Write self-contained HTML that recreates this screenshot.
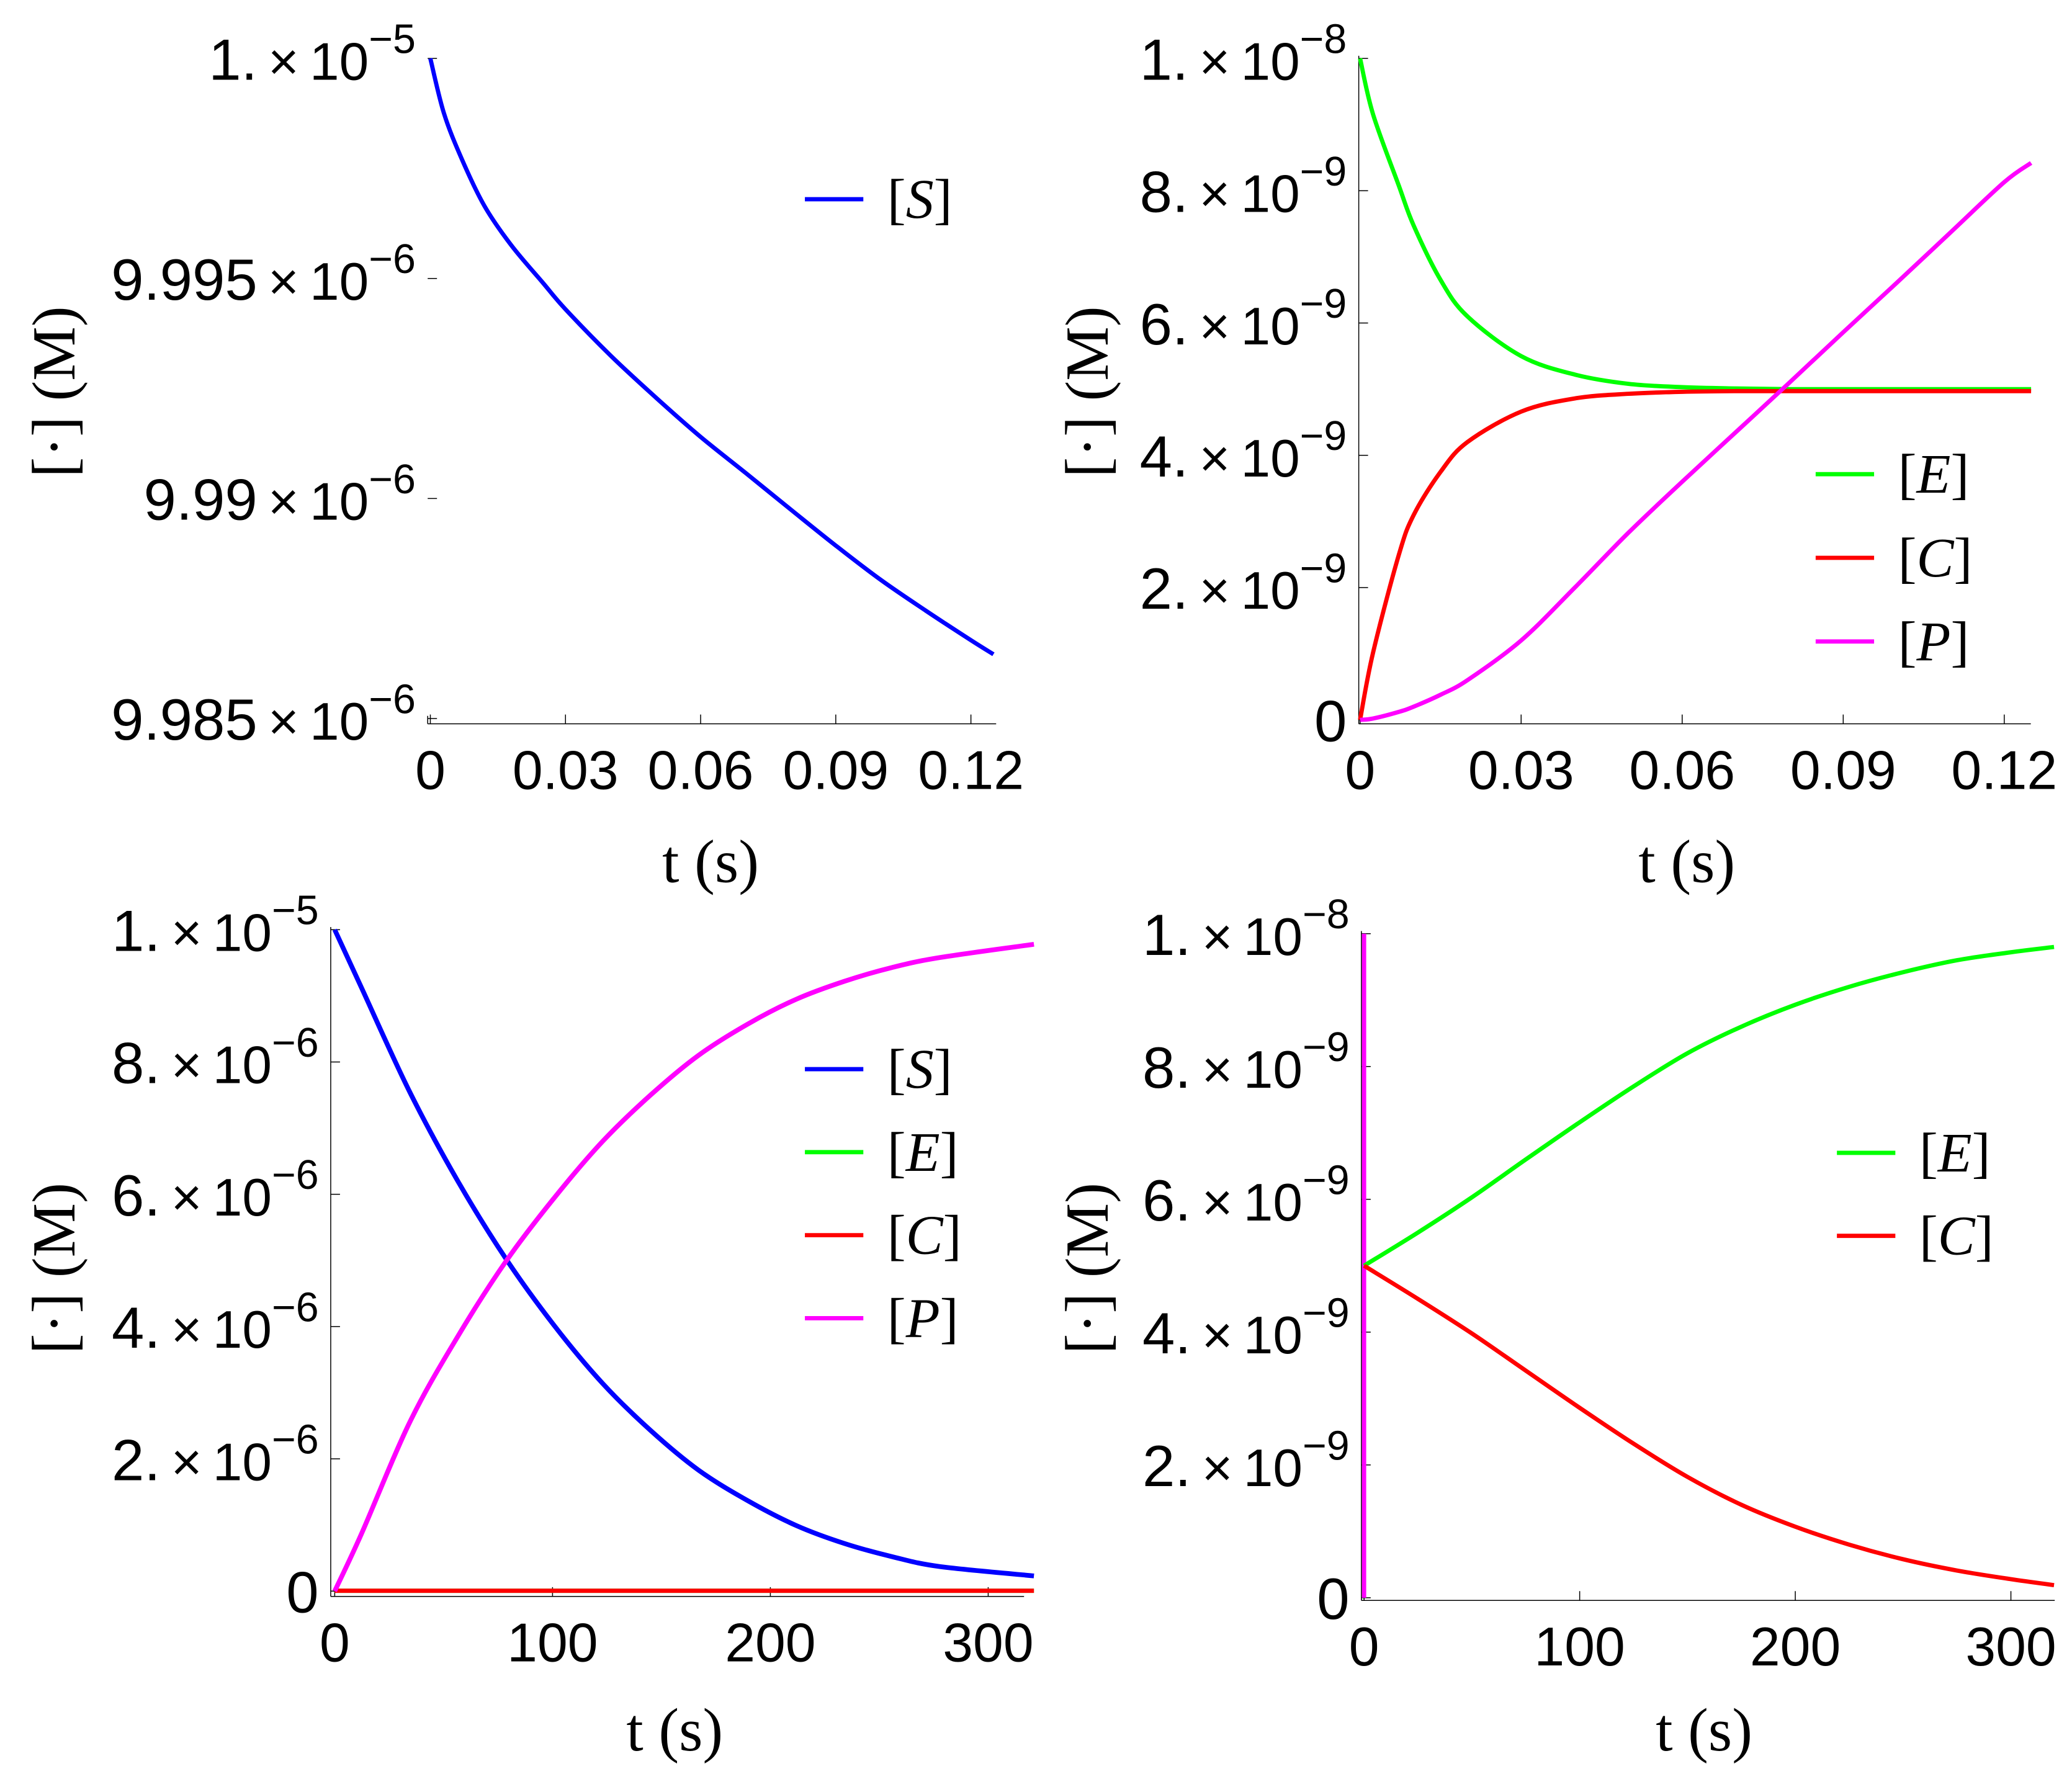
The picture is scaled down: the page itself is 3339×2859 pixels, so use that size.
<!DOCTYPE html>
<html><head><meta charset="utf-8"><style>
html,body{margin:0;padding:0;background:#fff;}
svg{display:block;}
text{font-family:"Liberation Sans",sans-serif;fill:#000;}
.serif{font-family:"Liberation Serif",serif;}
</style></head><body>
<svg id="fig" width="3339" height="2859" viewBox="0 0 1560 1335.7" preserveAspectRatio="none" xmlns="http://www.w3.org/2000/svg"></svg>
<script>
// ---- Panel A (top-left): [S] short time ----
const tA = [0,0.003,0.007,0.012,0.018,0.025,0.03,0.04,0.05,0.06,0.07,0.08,0.09,0.1,0.11,0.12,0.125];
const sA = [10,9.99876,9.99771,9.99665,9.99575,9.99490,9.99430,9.99325,9.99230,9.99140,9.99058,9.98975,9.98893,9.98815,9.98745,9.98678,9.98646];
const xTicksA = [0,0.03,0.06,0.09,0.12];
const xTickLabelsA = ["0","0.03","0.06","0.09","0.12"];
const yTicksA = [10,9.995,9.99,9.985];
const yTickMantA = ["1.","9.995","9.99","9.985"];
const yTickExpA = ["−5","−6","−6","−6"];

// ---- Panel B (top-right): E, C, P short time ----
const tB = [0,0.0024,0.0072,0.01,0.015,0.02,0.03,0.04,0.05,0.06,0.07,0.08,0.09,0.1,0.11,0.12,0.125];
const eB = [10,9.16,8.08,7.47,6.65,6.1,5.5,5.22,5.08,5.03,5.01,5.0,5.0,5.0,5.0,5.0,5.0];
const cB = [0,1.01,2.49,3.1,3.75,4.2,4.66,4.86,4.93,4.96,4.97,4.97,4.97,4.97,4.97,4.97,4.97];
const pB = [0,0.02,0.12,0.2,0.38,0.6,1.2,2.0,2.83,3.6,4.35,5.1,5.86,6.61,7.37,8.13,8.42];
const xTicksB = [0,0.03,0.06,0.09,0.12];
const xTickLabelsB = ["0","0.03","0.06","0.09","0.12"];
const yTicksB = [0,2,4,6,8,10];
const yTickMantB = ["0","2.","4.","6.","8.","1."];
const yTickExpB = ["","−9","−9","−9","−9","−8"];

// ---- Panel C (bottom-left): S, E, C, P long time ----
const tC = [0,12.2,34.4,56.5,78.7,100.9,123,145,167,190,212,234,256,278,321];
const sC = [10,9.13,7.55,6.2,5.02,4.01,3.14,2.43,1.83,1.36,0.99,0.72,0.52,0.37,0.23];
const pC = [0,0.86,2.55,3.85,4.99,5.95,6.8,7.5,8.1,8.58,8.95,9.22,9.43,9.58,9.78];
const eC = [0.005,0.005,0.005,0.005,0.005,0.005,0.005,0.005,0.005,0.005,0.005,0.005,0.005,0.005,0.005];
const cC = [0.005,0.005,0.005,0.005,0.005,0.005,0.005,0.005,0.005,0.005,0.005,0.005,0.005,0.005,0.005];
const xTicksC = [0,100,200,300];
const xTickLabelsC = ["0","100","200","300"];
const yTicksC = [0,2,4,6,8,10];
const yTickMantC = ["0","2.","4.","6.","8.","1."];
const yTickExpC = ["","−6","−6","−6","−6","−5"];

// ---- Panel D (bottom-right): E, C long time ----
const tD = [0,25,50,75,100,125,150,175,200,225,250,275,300,320];
const eD = [5,5.5,6.03,6.6,7.16,7.7,8.2,8.6,8.93,9.2,9.42,9.6,9.72,9.8];
const cD = [5,4.5,3.98,3.42,2.86,2.32,1.82,1.4,1.07,0.8,0.58,0.41,0.28,0.19];
const tDspike = [0,0];
const pDspike = [0,10];
const xTicksD = [0,100,200,300];
const xTickLabelsD = ["0","100","200","300"];
const yTicksD = [0,2,4,6,8,10];
const yTickMantD = ["0","2.","4.","6.","8.","1."];
const yTickExpD = ["","−9","−9","−9","−9","−8"];

const NS = "http://www.w3.org/2000/svg";
const svg = document.getElementById('fig');
function mk(tag, attrs, parent){
  const el = document.createElementNS(NS, tag);
  for (const k in attrs) el.setAttribute(k, attrs[k]);
  (parent||svg).appendChild(el);
  return el;
}
function linScale(d0,d1,r0,r1){ return v => r0 + (v-d0)*(r1-r0)/(d1-d0); }
function smoothPath(pts){
  if (pts.length < 3) return pts.map((p,i)=>(i?'L':'M')+p[0].toFixed(2)+' '+p[1].toFixed(2)).join(' ');
  let d = 'M' + pts[0][0].toFixed(2) + ' ' + pts[0][1].toFixed(2);
  for (let i=0;i<pts.length-1;i++){
    const p0 = pts[Math.max(0,i-1)], p1 = pts[i], p2 = pts[i+1], p3 = pts[Math.min(pts.length-1,i+2)];
    const c1x = p1[0] + (p2[0]-p0[0])/6, c1y = p1[1] + (p2[1]-p0[1])/6;
    const c2x = p2[0] - (p3[0]-p1[0])/6, c2y = p2[1] - (p3[1]-p1[1])/6;
    d += ` C${c1x.toFixed(2)} ${c1y.toFixed(2)} ${c2x.toFixed(2)} ${c2y.toFixed(2)} ${p2[0].toFixed(2)} ${p2[1].toFixed(2)}`;
  }
  return d;
}

function panel(p){
  const g = mk('g', {});
  
  
  const X = linScale(p.xd[0], p.xd[1], p.xr[0], p.xr[1]);
  const Y = linScale(p.yd[0], p.yd[1], p.yr[0], p.yr[1]);
  const ax = p.axisX, ay = p.axisY;
  const yAxis = mk('line', {x1:ax, y1:p.yr[1]-2, x2:ax, y2:ay, stroke:'#000','stroke-width':0.7}, g);
  
  
  const xAxis = mk('line', {x1:ax, y1:ay, x2:p.xEnd, y2:ay, stroke:'#000','stroke-width':0.7}, g);
  
  
  p.xTicks.forEach((v,i)=>{
    const x = X(v);
    const tk = mk('line', {x1:x, y1:ay, x2:x, y2:ay-7, stroke:'#000','stroke-width':0.7}, g);
    
    
    const tx = mk('text', {x:x, y:ay+49, 'text-anchor':'middle','font-size':41}, g);
    tx.textContent = p.xLabels[i];
    
    
  });
  p.yTicks.forEach((v,i)=>{
    const y = Y(v);
    const tk = mk('line', {x1:ax, y1:y, x2:ax+7, y2:y, stroke:'#000','stroke-width':0.7}, g);
    
    
    const tx = mk('text', {x:ax-9, y:y+16, 'text-anchor':'end','font-size':44}, g);
    
    
    if (p.yExp[i] === "") { tx.textContent = p.yMant[i]; }
    else {
      const a = mk('tspan', {}, tx); a.textContent = p.yMant[i];
      const b = mk('tspan', {'font-size':40}, tx); b.textContent = "\u2009×\u200910";
      const c = mk('tspan', {'font-size':31, dy:-20}, tx); c.textContent = p.yExp[i];
    }
  });
  p.series.forEach(s=>{
    const pts = s.t.map((t,i)=>[X(t), Y(s.v[i])]);
    const path = mk('path', {d:smoothPath(pts), fill:'none', stroke:s.color, 'stroke-width':s.w||3.2, 'stroke-linejoin':'round','stroke-linecap':'butt'}, g);
    
    
  });
  p.legend.items.forEach((it,i)=>{
    const y = p.legend.y0 + i*p.legend.dy;
    const lg = mk('g', {}, g);
    
    
    mk('line', {x1:p.legend.x, y1:y, x2:p.legend.x+44, y2:y, stroke:it.color,'stroke-width':3.2}, lg);
    const tx = mk('text', {x:p.legend.x+62, y:y+14, 'font-size':42, class:'serif'}, lg);
    const a = mk('tspan', {}, tx); a.textContent = '[';
    const b = mk('tspan', {'font-style':'italic'}, tx); b.textContent = it.key;
    const c = mk('tspan', {}, tx); c.textContent = ']';
  });
  const xt = mk('text', {x:p.xTitle[0], y:p.xTitle[1], 'text-anchor':'middle','font-size':46, class:'serif'}, g);
  xt.textContent = 't (s)';
  
  
  const yt = mk('text', {x:0, y:0, 'text-anchor':'middle','font-size':46, class:'serif',
    transform:`translate(${p.yTitle[0]},${p.yTitle[1]}) rotate(-90)`}, g);
  yt.textContent = '[·] (M)';
  
  
}

panel({name:'panel-s-short', xd:[0,0.12], xr:[324,731], yd:[10,9.985], yr:[44,541],
  axisX:322, axisY:545, xEnd:750,
  xTicks:xTicksA, xLabels:xTickLabelsA, yTicks:yTicksA, yMant:yTickMantA, yExp:yTickExpA,
  series:[{name:'series-s', t:tA, v:sA, color:'#0000ff'}],
  legend:{x:606, y0:150, dy:62, items:[{key:'S', color:'#0000ff'}]},
  xTitle:[535,664], yTitle:[56,295]});

panel({name:'panel-ecp-short', xd:[0,0.12], xr:[1024,1509], yd:[0,10], yr:[542,44],
  axisX:1023, axisY:545, xEnd:1529,
  xTicks:xTicksB, xLabels:xTickLabelsB, yTicks:yTicksB, yMant:yTickMantB, yExp:yTickExpB,
  series:[{name:'series-e', t:tB, v:eB, color:'#00ff00'},
          {name:'series-c', t:tB, v:cB, color:'#ff0000'},
          {name:'series-p', t:tB, v:pB, color:'#ff00ff'}],
  legend:{x:1367, y0:357, dy:63, items:[{key:'E', color:'#00ff00'},{key:'C', color:'#ff0000'},{key:'P', color:'#ff00ff'}]},
  xTitle:[1270,664], yTitle:[834,295]});

panel({name:'panel-secp-long', xd:[0,300], xr:[252,744], yd:[0,10], yr:[1198,700],
  axisX:249, axisY:1202, xEnd:771,
  xTicks:xTicksC, xLabels:xTickLabelsC, yTicks:yTicksC, yMant:yTickMantC, yExp:yTickExpC,
  series:[{name:'series-e', t:tC, v:eC, color:'#00ff00'},
          {name:'series-c', t:tC, v:cC, color:'#ff0000'},
          {name:'series-s', t:tC, v:sC, color:'#0000ff', w:3.6},
          {name:'series-p', t:tC, v:pC, color:'#ff00ff', w:3.6}],
  legend:{x:606, y0:805, dy:62.5, items:[{key:'S', color:'#0000ff'},{key:'E', color:'#00ff00'},{key:'C', color:'#ff0000'},{key:'P', color:'#ff00ff'}]},
  xTitle:[508,1318], yTitle:[56,955]});

panel({name:'panel-ec-long', xd:[0,300], xr:[1027,1514], yd:[0,10], yr:[1203,703],
  axisX:1025, axisY:1205, xEnd:1547,
  xTicks:xTicksD, xLabels:xTickLabelsD, yTicks:yTicksD, yMant:yTickMantD, yExp:yTickExpD,
  series:[{name:'series-p-spike', t:tDspike, v:pDspike, color:'#ff00ff'},
          {name:'series-e', t:tD, v:eD, color:'#00ff00'},
          {name:'series-c', t:tD, v:cD, color:'#ff0000'}],
  legend:{x:1383, y0:868, dy:62.5, items:[{key:'E', color:'#00ff00'},{key:'C', color:'#ff0000'}]},
  xTitle:[1283,1318], yTitle:[834,955]});
</script>
</body></html>
